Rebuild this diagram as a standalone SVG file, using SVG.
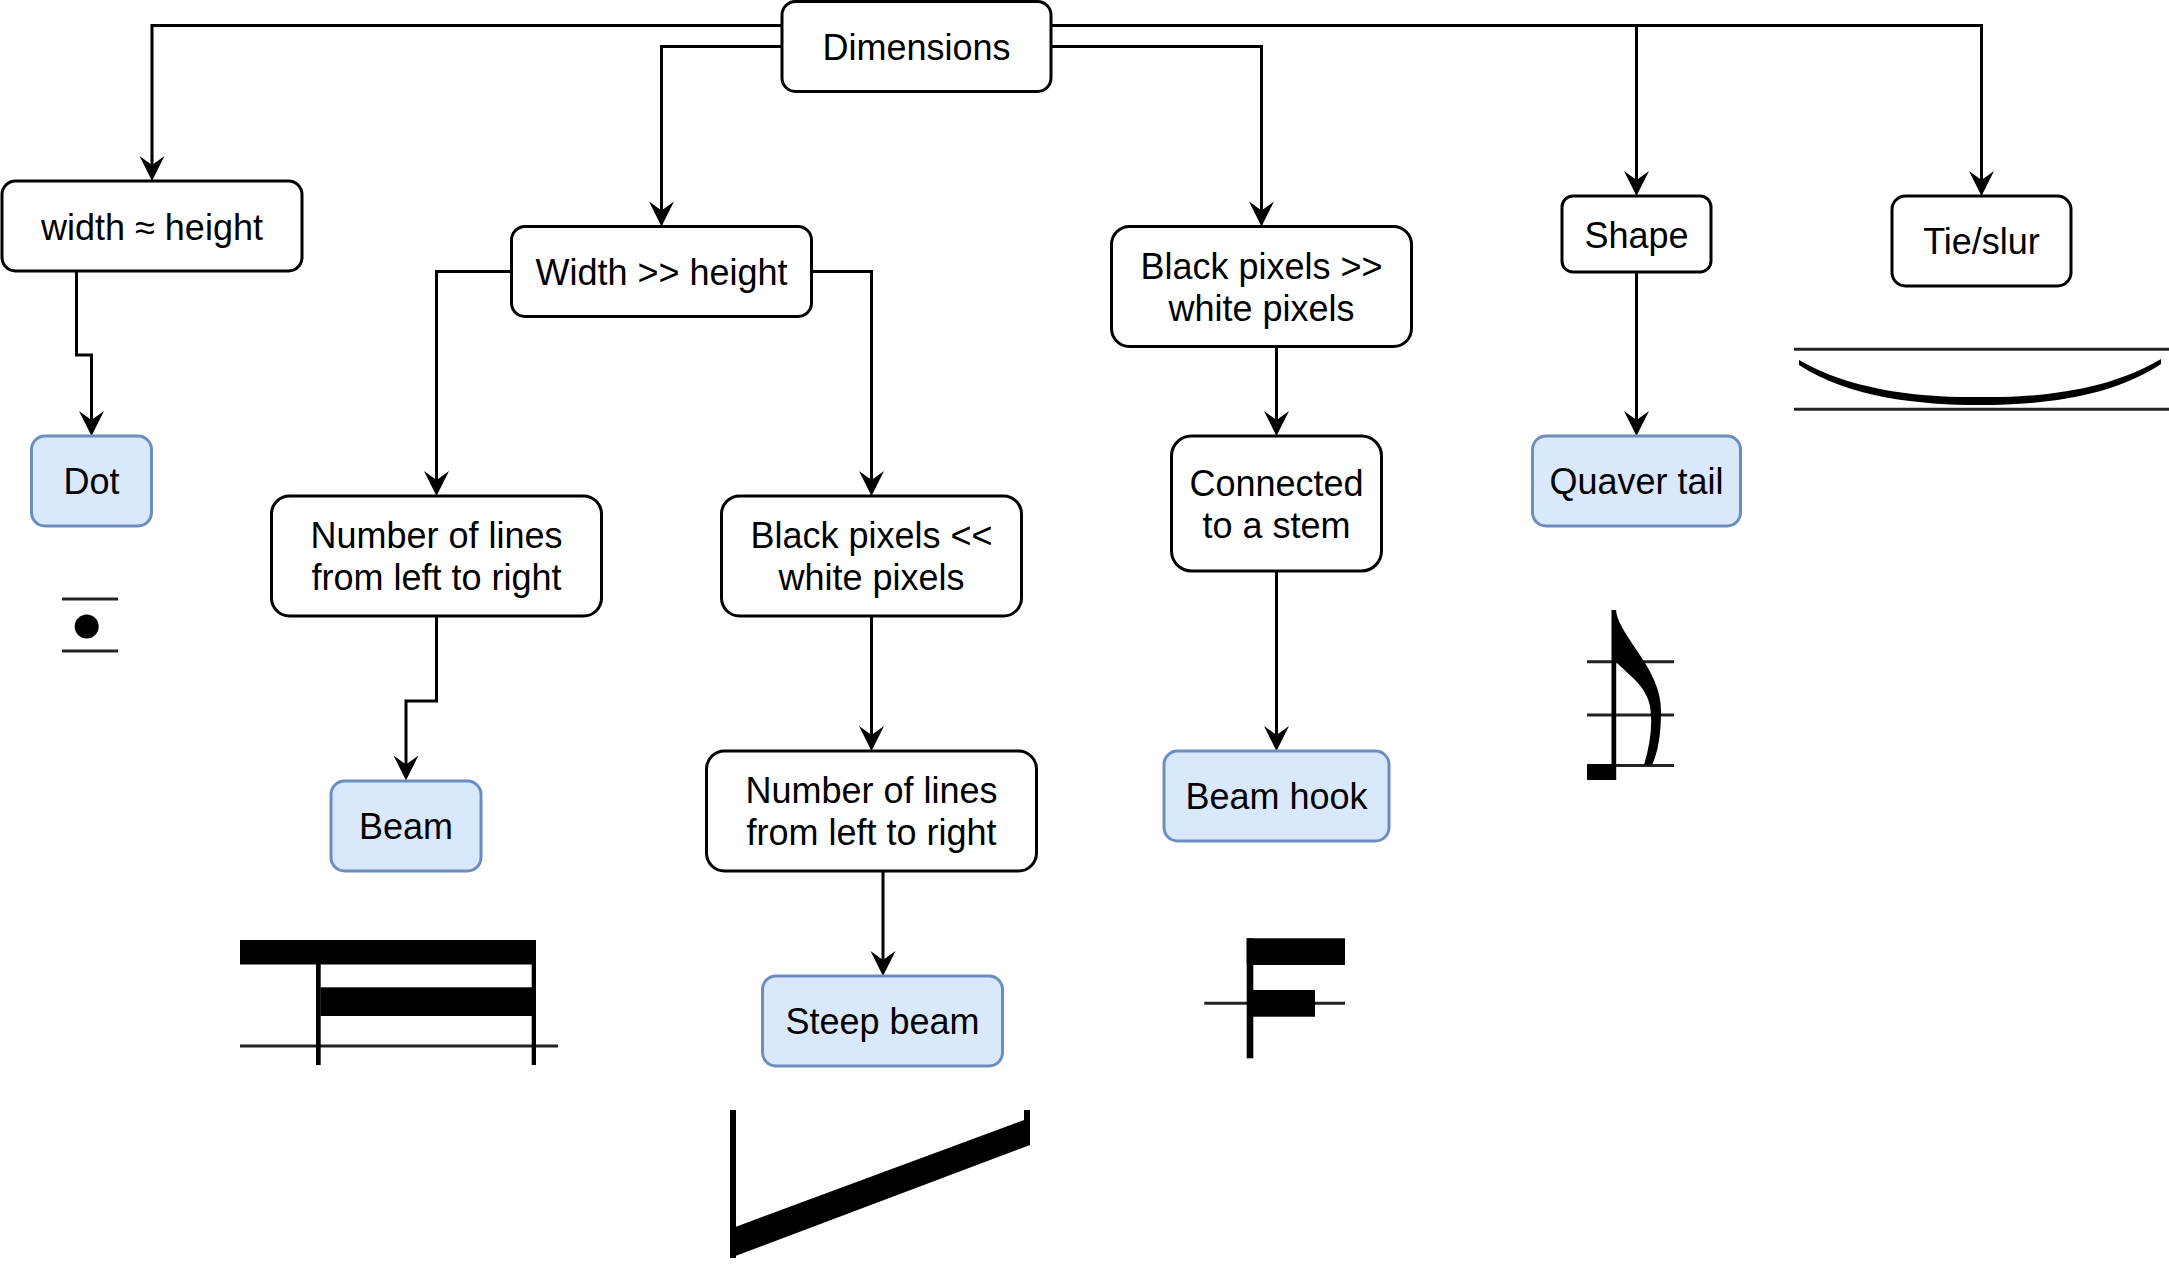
<svg xmlns="http://www.w3.org/2000/svg" width="2169" height="1284" viewBox="0 0 2169 1284">
<style>
.n rect{fill:#ffffff;stroke:#000000;stroke-width:3}
.b rect{fill:#dae8fc;stroke:#6c8ebf;stroke-width:3}
text{font-family:"Liberation Sans",Arial,Helvetica,sans-serif;font-size:36px;fill:#000000;text-anchor:middle}
.e path{fill:none;stroke:#000000;stroke-width:3;marker-end:url(#arr)}
.ink{fill:#000000}
.staff{stroke:#222222;stroke-width:3;fill:none}
</style>
<defs>
<marker id="arr" markerUnits="userSpaceOnUse" markerWidth="26" markerHeight="26" refX="13" refY="12.5" orient="auto" overflow="visible">
<path d="M0,0 L25,12.5 L0,25 L9,12.5 Z" fill="#000000"/>
</marker>
</defs>
<rect width="2169" height="1284" fill="#ffffff"/>
<g id="connectors" class="e">
<path d="M782,25.5 L152,25.5 L152,169"/>
<path d="M782,46.5 L661.5,46.5 L661.5,214.5"/>
<path d="M1051,46.5 L1261.5,46.5 L1261.5,214.5"/>
<path d="M1051,25.5 L1636.5,25.5 L1636.5,184"/>
<path d="M1051,25.5 L1981.5,25.5 L1981.5,184"/>
<path d="M76.5,271 L76.5,355 L91.5,355 L91.5,424"/>
<path d="M511.5,271.5 L436.5,271.5 L436.5,484"/>
<path d="M811.5,271.5 L871.5,271.5 L871.5,484"/>
<path d="M436.5,616 L436.5,701 L406,701 L406,768.5"/>
<path d="M871.5,616 L871.5,739"/>
<path d="M883,871 L883,964"/>
<path d="M1276.5,346.5 L1276.5,424"/>
<path d="M1636.5,272 L1636.5,424"/>
<path d="M1276.5,571 L1276.5,739"/>
</g>
<g id="dimensions" class="n"><rect x="782" y="1.5" width="269" height="90" rx="13.5"/><text x="916.5" y="59.5">Dimensions</text></g>
<g id="width-approx-height" class="n"><rect x="2" y="181" width="300" height="90" rx="13.5"/><text x="152" y="239.5">width ≈ height</text></g>
<g id="width-gg-height" class="n"><rect x="511.5" y="226.5" width="300" height="90" rx="13.5"/><text x="661.5" y="284.5">Width &gt;&gt; height</text></g>
<g id="black-gg-white" class="n"><rect x="1111.5" y="226.5" width="300" height="120" rx="18"/><text x="1261.5" y="278.5">Black pixels &gt;&gt;</text><text x="1261.5" y="320.5">white pixels</text></g>
<g id="shape" class="n"><rect x="1562" y="196" width="149" height="76" rx="11"/><text x="1636.5" y="247.5">Shape</text></g>
<g id="tie-slur" class="n"><rect x="1892" y="196" width="179" height="90" rx="13.5"/><text x="1981.5" y="254">Tie/slur</text></g>
<g id="dot" class="b"><rect x="31.5" y="436" width="120" height="90" rx="13.5"/><text x="91.5" y="494">Dot</text></g>
<g id="lines-1" class="n"><rect x="271.5" y="496" width="330" height="120" rx="18"/><text x="436.5" y="548">Number of lines</text><text x="436.5" y="590">from left to right</text></g>
<g id="black-ll-white" class="n"><rect x="721.5" y="496" width="300" height="120" rx="18"/><text x="871.5" y="548">Black pixels &lt;&lt;</text><text x="871.5" y="590">white pixels</text></g>
<g id="connected-stem" class="n"><rect x="1171.5" y="436" width="210" height="135" rx="20"/><text x="1276.5" y="496">Connected</text><text x="1276.5" y="538">to a stem</text></g>
<g id="quaver-tail" class="b"><rect x="1532.5" y="436" width="208" height="90" rx="13.5"/><text x="1636.5" y="494">Quaver tail</text></g>
<g id="beam" class="b"><rect x="331" y="781" width="150" height="90" rx="13.5"/><text x="406" y="839">Beam</text></g>
<g id="lines-2" class="n"><rect x="706.5" y="751" width="330" height="120" rx="18"/><text x="871.5" y="803">Number of lines</text><text x="871.5" y="845">from left to right</text></g>
<g id="beam-hook" class="b"><rect x="1164" y="751" width="225" height="90" rx="13.5"/><text x="1276.5" y="809">Beam hook</text></g>
<g id="steep-beam" class="b"><rect x="762.5" y="976" width="240" height="90" rx="13.5"/><text x="882.5" y="1034">Steep beam</text></g>
<g id="img-dot">
<line class="staff" x1="62" y1="599" x2="118" y2="599" stroke-width="5"/>
<circle class="ink" cx="86.7" cy="626.5" r="12"/>
<line class="staff" x1="62" y1="651" x2="118" y2="651" stroke-width="5"/>
</g>
<g id="img-tie">
<line class="staff" x1="1794" y1="349.3" x2="2169" y2="349.3"/>
<line class="staff" x1="1794" y1="409.3" x2="2169" y2="409.3"/>
<path class="ink" d="M1799,360 C1850,390 1920,398 1980,397 C2040,398 2110,390 2161,359 L2161,364 C2110,398 2040,405 1980,405 C1920,405 1850,398 1799,365 Z"/>
</g>
<g id="img-quaver">
<line class="staff" x1="1587" y1="661.7" x2="1674" y2="661.7" stroke-width="2.5"/>
<line class="staff" x1="1587" y1="715" x2="1674" y2="715" stroke-width="2.5"/>
<line class="staff" x1="1587" y1="765.5" x2="1674" y2="765.5" stroke-width="2.5"/>
<rect class="ink" x="1611.5" y="610" width="4.7" height="170"/>
<rect class="ink" x="1587" y="764" width="28" height="16"/>
<path class="ink" d="M1616,612 C1622,640 1662,670 1661,712 C1661,738 1657,754 1652,765 L1644,765 C1650,745 1653,725 1650,706 C1646,686 1630,676 1616,662 Z"/>
</g>
<g id="img-beam">
<line class="staff" x1="240" y1="1046" x2="558" y2="1046"/>
<rect class="ink" x="240" y="940" width="296" height="24.5"/>
<rect class="ink" x="316" y="964" width="4.7" height="101"/>
<rect class="ink" x="320.5" y="987.3" width="215.5" height="28.7"/>
<rect class="ink" x="531.7" y="940" width="4.3" height="125"/>
</g>
<g id="img-beam-hook">
<line class="staff" x1="1204.3" y1="1003.3" x2="1345" y2="1003.3"/>
<rect class="ink" x="1246.7" y="938.3" width="98.3" height="26.7"/>
<rect class="ink" x="1246.7" y="938.3" width="6.6" height="120"/>
<rect class="ink" x="1253" y="990" width="62" height="26.7"/>
</g>
<g id="img-steep-beam">
<rect class="ink" x="730" y="1110" width="6" height="148"/>
<path class="ink" d="M736,1226.7 L1024,1120 L1024,1110 L1030,1110 L1030,1145 L730,1258 L730,1226.7 Z"/>
</g>
</svg>
